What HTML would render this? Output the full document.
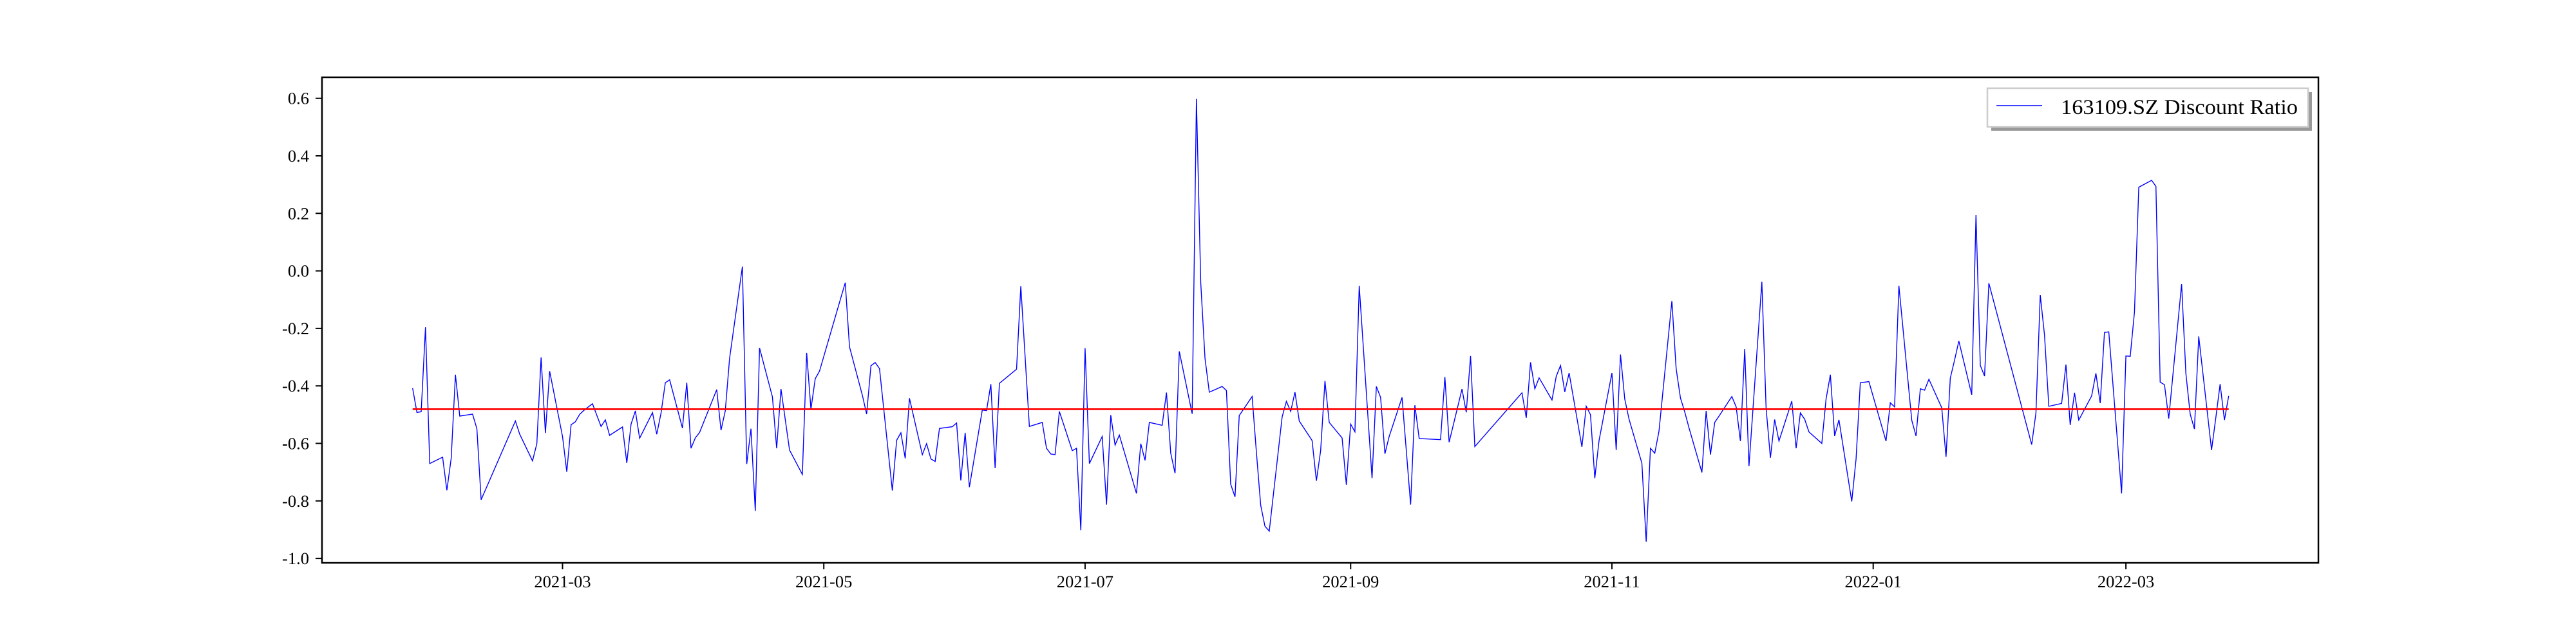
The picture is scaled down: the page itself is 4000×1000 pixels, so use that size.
<!DOCTYPE html>
<html><head><meta charset="utf-8"><style>
html,body{margin:0;padding:0;background:#fff;}
svg{display:block;font-family:"Liberation Serif","DejaVu Serif",serif;}
</style></head><body>
<svg id="chart" width="4000" height="1000" viewBox="0 0 4000 1000" xmlns="http://www.w3.org/2000/svg">
<rect x="0" y="0" width="4000" height="1000" fill="#fff"/>
<g id="plot"></g>
<rect x="500" y="120" width="3100" height="754" fill="none" stroke="#000" stroke-width="2.5"/>
<g id="xticks"></g>
<g id="yticks"></g>
<g>
<rect x="3092" y="143" width="498" height="60" fill="#999"/>
<rect x="3086" y="137" width="498" height="60" fill="#fff" stroke="#ccc" stroke-width="2.5"/>
<line x1="3100" y1="164" x2="3171" y2="164" stroke="#0000ff" stroke-width="1.4"/>
<text x="3200" y="177" font-size="33" textLength="368" lengthAdjust="spacingAndGlyphs" fill="#000">163109.SZ Discount Ratio</text>
</g>
</svg>
<script>
const dayOffsets = [0,1,2,3,4,7,8,9,10,11,14,15,16,24,25,28,29,30,31,32,35,36,37,38,39,40,42,43,44,45,46,49,50,51,52,53,56,57,58,59,60,63,64,65,66,67,71,72,73,74,77,78,79,80,81,84,85,86,88,91,92,93,94,95,101,102,105,106,107,108,109,112,113,114,115,116,119,120,121,122,123,126,127,128,129,130,133,134,135,136,137,141,142,144,147,148,149,150,151,154,155,156,157,158,161,162,163,164,165,169,170,171,172,175,176,177,178,179,182,183,184,185,186,189,190,191,192,193,196,197,198,199,200,203,204,205,206,207,210,211,212,213,214,217,218,219,220,221,224,225,226,227,228,231,232,233,234,235,240,241,242,245,246,247,248,259,260,261,262,263,266,267,268,269,270,273,274,275,276,277,280,281,282,283,284,287,288,289,290,291,294,295,296,297,298,301,302,303,304,305,308,309,310,311,312,315,316,317,318,319,322,323,324,325,326,329,330,331,332,333,336,337,338,339,340,344,345,346,347,350,351,352,353,354,357,358,359,360,361,364,365,366,367,368,378,379,380,381,382,385,386,387,388,389,392,393,394,395,396,399,400,401,402,403,406,407,408,409,410,413,414,415,416,417,420,421,422,423,424];
const ratioValues = [-0.408,-0.492,-0.490,-0.196,-0.670,-0.648,-0.763,-0.652,-0.361,-0.505,-0.498,-0.549,-0.796,-0.522,-0.568,-0.661,-0.601,-0.301,-0.564,-0.349,-0.576,-0.699,-0.535,-0.525,-0.499,-0.485,-0.462,-0.502,-0.541,-0.518,-0.572,-0.543,-0.668,-0.533,-0.487,-0.582,-0.493,-0.568,-0.494,-0.389,-0.379,-0.547,-0.389,-0.617,-0.581,-0.562,-0.413,-0.554,-0.487,-0.304,0.015,-0.672,-0.549,-0.835,-0.268,-0.438,-0.617,-0.411,-0.623,-0.708,-0.285,-0.481,-0.375,-0.349,-0.041,-0.264,-0.433,-0.498,-0.330,-0.319,-0.340,-0.764,-0.589,-0.563,-0.652,-0.443,-0.639,-0.601,-0.654,-0.663,-0.548,-0.542,-0.529,-0.729,-0.563,-0.752,-0.484,-0.486,-0.394,-0.686,-0.391,-0.342,-0.053,-0.541,-0.527,-0.617,-0.637,-0.639,-0.489,-0.625,-0.617,-0.902,-0.269,-0.670,-0.576,-0.813,-0.502,-0.606,-0.571,-0.774,-0.601,-0.659,-0.527,-0.537,-0.423,-0.634,-0.704,-0.280,-0.497,0.598,-0.041,-0.304,-0.422,-0.402,-0.416,-0.742,-0.786,-0.503,-0.437,-0.630,-0.815,-0.888,-0.905,-0.508,-0.454,-0.489,-0.422,-0.522,-0.590,-0.730,-0.625,-0.383,-0.527,-0.581,-0.744,-0.533,-0.560,-0.052,-0.721,-0.402,-0.440,-0.636,-0.576,-0.440,-0.625,-0.813,-0.467,-0.583,-0.587,-0.369,-0.596,-0.411,-0.492,-0.296,-0.611,-0.424,-0.511,-0.318,-0.410,-0.372,-0.449,-0.367,-0.329,-0.421,-0.355,-0.612,-0.471,-0.500,-0.721,-0.590,-0.355,-0.623,-0.291,-0.446,-0.516,-0.669,-0.942,-0.617,-0.634,-0.557,-0.105,-0.340,-0.442,-0.490,-0.546,-0.701,-0.487,-0.639,-0.527,-0.505,-0.437,-0.473,-0.592,-0.272,-0.679,-0.038,-0.478,-0.650,-0.517,-0.592,-0.453,-0.617,-0.494,-0.516,-0.560,-0.600,-0.446,-0.361,-0.574,-0.518,-0.802,-0.654,-0.389,-0.387,-0.385,-0.592,-0.459,-0.473,-0.052,-0.520,-0.574,-0.410,-0.415,-0.377,-0.476,-0.647,-0.373,-0.310,-0.244,-0.431,0.194,-0.329,-0.366,-0.043,-0.604,-0.494,-0.084,-0.223,-0.471,-0.461,-0.326,-0.536,-0.424,-0.519,-0.435,-0.356,-0.460,-0.214,-0.212,-0.774,-0.296,-0.297,-0.143,0.291,0.315,0.294,-0.387,-0.396,-0.514,-0.046,-0.356,-0.498,-0.550,-0.228,-0.623,-0.509,-0.394,-0.519,-0.435];
const meanValue = [-0.481];
const xTickDays = [35,96,157,219,280,341,400];
const xTickLabels = ["2021-03","2021-05","2021-07","2021-09","2021-11","2022-01","2022-03"];
const yTickValues = [-1.0,-0.8,-0.6,-0.4,-0.2,0.0,0.2,0.4,0.6];

const NS = "http://www.w3.org/2000/svg";
function xScale(d){ return 640.7 + d * 6.651; }
function yScale(v){ return 152.7 + (0.6 - v) * 446.5; }

const plot = document.getElementById('plot');
let pts = dayOffsets.map((d,i)=> xScale(d).toFixed(1)+','+yScale(ratioValues[i]).toFixed(1)).join(' ');
const line = document.createElementNS(NS,'polyline');
line.setAttribute('points', pts);
line.setAttribute('fill','none');
line.setAttribute('stroke','#0000ff');
line.setAttribute('stroke-width','1.4');
line.setAttribute('stroke-linejoin','miter');


plot.appendChild(line);

const mean = document.createElementNS(NS,'line');
mean.setAttribute('x1', xScale(dayOffsets[0]));
mean.setAttribute('x2', xScale(dayOffsets[dayOffsets.length-1]));
mean.setAttribute('y1', yScale(meanValue[0]));
mean.setAttribute('y2', yScale(meanValue[0]));
mean.setAttribute('stroke','#ff0000');
mean.setAttribute('stroke-width','2.8');


plot.appendChild(mean);

const xg = document.getElementById('xticks');
xTickDays.forEach((d,i)=>{
  const x = xScale(d);
  const t = document.createElementNS(NS,'line');
  t.setAttribute('x1',x); t.setAttribute('x2',x); t.setAttribute('y1',874); t.setAttribute('y2',884);
  t.setAttribute('stroke','#000'); t.setAttribute('stroke-width','2');
  
  
  xg.appendChild(t);
  const l = document.createElementNS(NS,'text');
  l.setAttribute('x',x); l.setAttribute('y',912);
  l.setAttribute('text-anchor','middle'); l.setAttribute('font-size','26.5');
  l.textContent = xTickLabels[i];
  
  
  xg.appendChild(l);
});
const yg = document.getElementById('yticks');
yTickValues.forEach(v=>{
  const y = yScale(v);
  const t = document.createElementNS(NS,'line');
  t.setAttribute('x1',490); t.setAttribute('x2',500); t.setAttribute('y1',y); t.setAttribute('y2',y);
  t.setAttribute('stroke','#000'); t.setAttribute('stroke-width','2');
  
  
  yg.appendChild(t);
  const l = document.createElementNS(NS,'text');
  l.setAttribute('x',480); l.setAttribute('y',y+9);
  l.setAttribute('text-anchor','end'); l.setAttribute('font-size','26.5');
  l.textContent = v.toFixed(1);
  
  
  yg.appendChild(l);
});
</script>
</body></html>
